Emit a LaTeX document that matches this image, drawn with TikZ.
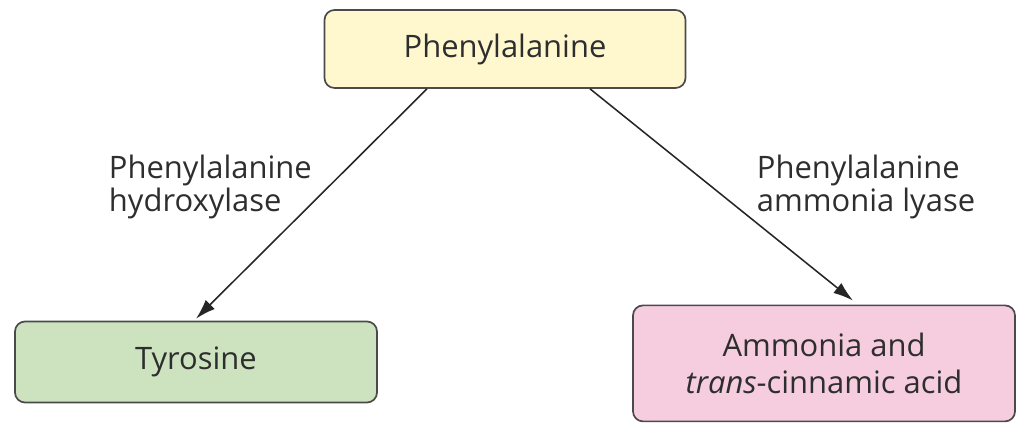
\documentclass[tikz,border=0pt]{standalone}
\usepackage{fontspec}
\setmainfont{Open Sans}
\usepackage{xcolor}
\usetikzlibrary{arrows.meta}

\definecolor{boxline}{HTML}{4A4A4A}
\definecolor{txtgray}{HTML}{2E2E2E}
\definecolor{pheyellow}{HTML}{FFF8CF}
\definecolor{tyrgreen}{HTML}{CDE3BF}
\definecolor{ammpink}{HTML}{F6CDDF}

\tikzset{
    substance/.style={draw=boxline, line width=1.2pt, rounded corners=0.25cm,
        align=center, text=txtgray, font=\fontsize{22}{26}\selectfont},
    enzyme/.style={align=left, text=txtgray, font=\fontsize{22}{24}\selectfont},
    reaction/.style={-{Latex[length=0.5cm,width=0.32cm]}, line width=1.1pt, draw=black!85}
}

\begin{document}
\begin{tikzpicture}
            \useasboundingbox (0,0) rectangle (25.5,10.575);

            \node[substance, fill=pheyellow, minimum width=9.025cm, minimum height=1.95cm] (phe) at (12.625,9.35){Phenylalanine};
            \node[substance, fill=tyrgreen, minimum width=9.05cm, minimum height=2.025cm] (tyr) at (4.9,1.525){Tyrosine};
            \node[substance, fill=ammpink, minimum width=9.55cm, minimum height=2.9cm] (amm) at (20.6,1.49){Ammonia and\\\textit{trans}-cinnamic acid};

            \node[enzyme, anchor=west] (pah) at (2.6,5.9){Phenylalanine\\hydroxylase};
            \node[enzyme, anchor=west] (pal) at (18.8,5.9){Phenylalanine\\ammonia lyase};

            \draw[reaction] ([xshift=-1.95cm]phe.south) -- ([yshift=0.05cm]tyr.north);
            \draw[reaction] ([xshift=2.125cm]phe.south) -- ([xshift=0.725cm,yshift=0.1cm]amm.north);
        \end{tikzpicture}
\end{document}
